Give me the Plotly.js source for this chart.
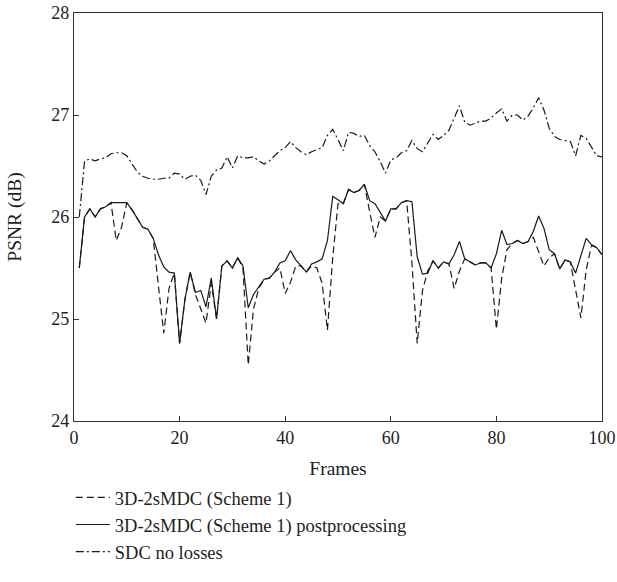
<!DOCTYPE html>
<html>
<head>
<meta charset="utf-8">
<script src="https://cdn.plot.ly/plotly-3.0.1.min.js"></script>
<style>html,body{margin:0;padding:0;background:#fff;}#chart{width:617px;height:582px;}</style>
</head>
<body>
<div id="chart"></div>
<script>
const frames = Array.from({length: 100}, (_, i) => i + 1);

const mdcPost = [25.5,26.0,26.08,26.0,26.08,26.1,26.14,26.14,26.14,26.14,
26.07,25.99,25.9,25.88,25.79,25.63,25.51,25.46,25.45,24.76,
25.19,25.46,25.26,25.28,25.12,25.4,25.0,25.52,25.57,25.5,
25.6,25.52,25.11,25.24,25.32,25.39,25.4,25.46,25.55,25.57,
25.67,25.58,25.52,25.46,25.54,25.56,25.59,25.77,26.2,26.17,
26.13,26.27,26.24,26.26,26.32,26.16,26.13,26.05,25.96,26.08,
26.08,26.14,26.16,26.15,25.61,25.44,25.45,25.57,25.5,25.56,
25.54,25.63,25.76,25.59,25.56,25.53,25.55,25.55,25.5,25.64,
25.87,25.73,25.74,25.77,25.74,25.76,25.86,26.01,25.89,25.68,
25.64,25.49,25.58,25.56,25.45,25.62,25.79,25.73,25.7,25.63];

const mdc = [25.5,26.0,26.08,26.0,26.08,26.1,26.14,25.77,25.9,26.14,
26.07,25.99,25.9,25.88,25.79,25.32,24.86,25.3,25.45,24.76,
25.19,25.46,25.24,25.1,24.96,25.35,25.0,25.52,25.57,25.5,
25.6,25.5,24.55,25.1,25.3,25.39,25.4,25.46,25.5,25.25,
25.36,25.52,25.52,25.46,25.52,25.5,25.35,24.89,25.6,26.13,
26.13,26.27,26.24,26.26,26.32,26.05,25.8,26.0,25.96,26.08,
26.08,26.14,26.16,25.55,24.76,25.28,25.47,25.57,25.5,25.56,
25.54,25.3,25.47,25.59,25.56,25.53,25.55,25.55,25.5,24.9,
25.4,25.68,25.74,25.77,25.74,25.76,25.8,25.66,25.52,25.6,
25.64,25.49,25.58,25.56,25.3,25.01,25.48,25.72,25.7,25.63];

const sdc = [26.0,26.55,26.57,26.55,26.57,26.58,26.62,26.63,26.63,26.6,
26.52,26.44,26.4,26.38,26.37,26.37,26.38,26.38,26.43,26.42,
26.37,26.4,26.41,26.36,26.22,26.4,26.46,26.48,26.59,26.48,
26.6,26.58,26.58,26.59,26.55,26.52,26.55,26.6,26.65,26.68,
26.74,26.68,26.64,26.61,26.64,26.66,26.68,26.8,26.86,26.76,
26.65,26.83,26.82,26.79,26.8,26.7,26.64,26.54,26.43,26.56,
26.58,26.63,26.65,26.75,26.67,26.64,26.73,26.81,26.76,26.8,
26.85,26.97,27.09,26.93,26.9,26.92,26.94,26.94,26.97,27.02,
27.06,26.94,27.0,27.0,26.95,26.99,27.07,27.17,27.05,26.87,
26.79,26.76,26.75,26.74,26.6,26.8,26.77,26.69,26.6,26.59];

const seriesNames = ['3D-2sMDC (Scheme 1)', '3D-2sMDC (Scheme 1) postprocessing', 'SDC no losses'];
const xTicks = [0, 20, 40, 60, 80, 100];
const yTicks = [24, 25, 26, 27, 28];

const lineColor = '#1a1a1a';
const traces = [
  {x: frames, y: mdc, name: seriesNames[0], mode: 'lines', line: {color: lineColor, width: 1.2, dash: '7px,4px'}},
  {x: frames, y: mdcPost, name: seriesNames[1], mode: 'lines', line: {color: lineColor, width: 1.2, dash: 'solid'}},
  {x: frames, y: sdc, name: seriesNames[2], mode: 'lines', line: {color: lineColor, width: 1.2, dash: '8px,3px,2px,3px'}}
];

const fam = '"Liberation Serif", "DejaVu Serif", serif';
const txt = '#1e1e1e';

const layout = {
  width: 617, height: 582,
  margin: {l: 74, r: 15, t: 13, b: 161, autoexpand: false},
  paper_bgcolor: '#fff', plot_bgcolor: '#fff',
  font: {family: fam, size: 18, color: txt},
  showlegend: true,
  legend: {x: -0.006, xanchor: 'left', y: -0.142, yanchor: 'top', orientation: 'v',
           font: {family: fam, size: 18.5, color: txt}, tracegroupgap: 0, itemwidth: 34,
           bgcolor: 'rgba(0,0,0,0)'},
  xaxis: {
    range: [0, 100], tickvals: xTicks, ticktext: xTicks.map(String),
    showline: true, mirror: true, linecolor: '#333', linewidth: 1.2, automargin: false,
    ticks: 'inside', ticklen: 5, tickcolor: '#333', showgrid: false, zeroline: false,
    tickfont: {family: fam, size: 18, color: txt},
    title: {text: 'Frames', font: {family: fam, size: 19.5, color: txt}, standoff: 14}
  },
  yaxis: {
    range: [24, 28], tickvals: yTicks, ticktext: yTicks.map(String),
    showline: true, mirror: true, linecolor: '#333', linewidth: 1.2, automargin: false,
    ticks: 'inside', ticklen: 5, tickcolor: '#333', showgrid: false, zeroline: false,
    tickfont: {family: fam, size: 18, color: txt},
    title: {text: 'PSNR (dB)', font: {family: fam, size: 19.5, color: txt}, standoff: 24}
  }
};

Plotly.newPlot('chart', traces, layout, {displayModeBar: false, staticPlot: true});
</script>
</body>
</html>
